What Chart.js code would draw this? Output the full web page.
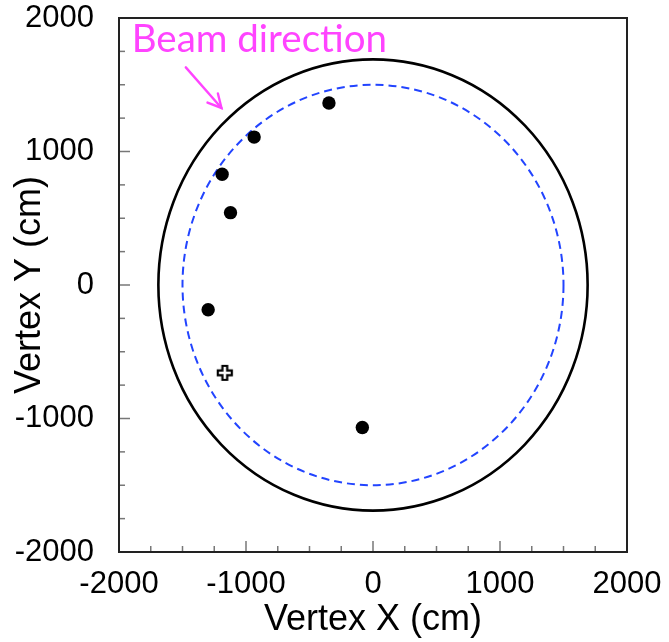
<!DOCTYPE html>
<html>
<head>
<meta charset="utf-8">
<script src="https://cdn.jsdelivr.net/npm/chart.js@4"></script>
<style>
  html, body { margin: 0; padding: 0; background: #fff; }
  #wrap { width: 669px; height: 642px; }
</style>
</head>
<body>
<div id="wrap"><canvas id="myChart" width="669" height="642"></canvas></div>
<script>
// vertices (cm)
const vertexX = [-347, -936, -1188, -1122, -1298, -84];
const vertexY = [1363, 1108, 830, 542, -185, -1067];
const openX = [-1167];
const openY = [-658];

const axisMin = -2000;
const axisMax = 2000;
const majorStep = 1000;
const minorStep = 250;

// detector outlines
const outerRadius = 1690;
const innerRadius = 1500;

// annotation
const beamLabel = "Beam direction";
const beamLabelAt = [-1900, 1745];
const arrowFrom = [-1474, 1630];
const arrowTo = [-1193, 1326];

// open cross marker drawn once on a small canvas
function openCrossMarker() {
    const c = document.createElement('canvas');
    c.width = 18; c.height = 18;
    const g = c.getContext('2d');
    const a = 2.4, b = 7, m = 9;
    g.beginPath();
    g.moveTo(m - a, m - b); g.lineTo(m + a, m - b); g.lineTo(m + a, m - a);
    g.lineTo(m + b, m - a); g.lineTo(m + b, m + a); g.lineTo(m + a, m + a);
    g.lineTo(m + a, m + b); g.lineTo(m - a, m + b); g.lineTo(m - a, m + a);
    g.lineTo(m - b, m + a); g.lineTo(m - b, m - a); g.lineTo(m - a, m - a);
    g.closePath();
    g.fillStyle = '#fff';
    g.fill();
    g.lineWidth = 2.2;
    g.strokeStyle = '#000';
    g.stroke();
    return c;
}

const detectorPlugin = {
    id: 'detector',
    beforeDatasetsDraw(chart) {
        const ctx = chart.ctx;
        const xs = chart.scales.x, ys = chart.scales.y;
        const cx = xs.getPixelForValue(0), cy = ys.getPixelForValue(0);
        ctx.save();
        // outer solid outline
        ctx.beginPath();
        ctx.ellipse(cx, cy,
            xs.getPixelForValue(outerRadius) - cx,
            cy - ys.getPixelForValue(outerRadius), 0, 0, Math.PI * 2);
        ctx.lineWidth = 2.6;
        ctx.strokeStyle = '#000';
        ctx.stroke();
        // inner dashed outline
        ctx.beginPath();
        ctx.ellipse(cx, cy,
            xs.getPixelForValue(innerRadius) - cx,
            cy - ys.getPixelForValue(innerRadius), 0, 0, Math.PI * 2);
        ctx.setLineDash([8, 5]);
        ctx.lineWidth = 2;
        ctx.strokeStyle = '#2244ff';
        ctx.stroke();
        ctx.restore();
    },
    afterDraw(chart) {
        const ctx = chart.ctx;
        const xs = chart.scales.x, ys = chart.scales.y;
        const area = chart.chartArea;
        ctx.save();
        // inward ticks, left and bottom
        ctx.strokeStyle = '#777';
        ctx.lineWidth = 1.5;
        for (let v = axisMin + minorStep; v < axisMax; v += minorStep) {
            const len = (v % majorStep === 0) ? 11 : 6;
            const px = xs.getPixelForValue(v);
            ctx.beginPath(); ctx.moveTo(px, area.bottom); ctx.lineTo(px, area.bottom - len); ctx.stroke();
            const py = ys.getPixelForValue(v);
            ctx.beginPath(); ctx.moveTo(area.left, py); ctx.lineTo(area.left + len, py); ctx.stroke();
        }
        // frame
        ctx.strokeStyle = '#222';
        ctx.lineWidth = 2;
        ctx.strokeRect(area.left, area.top, area.right - area.left, area.bottom - area.top);

        // beam label and arrow
        ctx.fillStyle = '#ff44ff';
        ctx.strokeStyle = '#ff44ff';
        ctx.font = '38.5px Lato';
        ctx.textBaseline = 'alphabetic';
        ctx.fillText(beamLabel, xs.getPixelForValue(beamLabelAt[0]), ys.getPixelForValue(beamLabelAt[1]));
        const x1 = xs.getPixelForValue(arrowFrom[0]), y1 = ys.getPixelForValue(arrowFrom[1]);
        const x2 = xs.getPixelForValue(arrowTo[0]), y2 = ys.getPixelForValue(arrowTo[1]);
        ctx.lineWidth = 2.4;
        ctx.lineCap = 'round';
        ctx.beginPath(); ctx.moveTo(x1, y1); ctx.lineTo(x2, y2); ctx.stroke();
        const ang = Math.atan2(y2 - y1, x2 - x1);
        ctx.beginPath();
        ctx.moveTo(x2 - 15 * Math.cos(ang - 0.48), y2 - 15 * Math.sin(ang - 0.48));
        ctx.lineTo(x2, y2);
        ctx.lineTo(x2 - 15 * Math.cos(ang + 0.48), y2 - 15 * Math.sin(ang + 0.48));
        ctx.stroke();
        ctx.restore();
    }
};

const tickFont = { family: '"Liberation Sans", Arial, sans-serif', size: 31 };
const titleFont = { family: '"Liberation Sans", Arial, sans-serif', size: 36 };
const plainTick = v => String(v);

new Chart(document.getElementById('myChart').getContext('2d'), {
    type: 'scatter',
    data: {
        datasets: [
            {
                label: 'vertices',
                data: vertexX.map((x, i) => ({ x: x, y: vertexY[i] })),
                pointRadius: 6.7,
                pointBackgroundColor: '#000',
                pointBorderWidth: 0
            },
            {
                label: 'open',
                data: openX.map((x, i) => ({ x: x, y: openY[i] })),
                pointStyle: openCrossMarker(),
                pointRadius: 9
            }
        ]
    },
    options: {
        responsive: false,
        animation: false,
        layout: { padding: { top: 18, right: 42, left: 0, bottom: 0 } },
        plugins: { legend: { display: false }, tooltip: { enabled: false } },
        scales: {
            x: {
                type: 'linear', min: axisMin, max: axisMax,
                afterFit: s => { s.height = 90; s.paddingLeft = 0; s.paddingRight = 0; },
                grid: { display: false },
                border: { display: false },
                ticks: { stepSize: majorStep, color: '#000', font: tickFont, padding: 6, maxRotation: 0, callback: plainTick },
                title: { display: true, text: 'Vertex X (cm)', color: '#000', font: titleFont, padding: { top: 2, bottom: 0 } }
            },
            y: {
                type: 'linear', min: axisMin, max: axisMax,
                afterFit: s => { s.width = 119; s.paddingTop = 0; s.paddingBottom = 0; },
                grid: { display: false },
                border: { display: false },
                ticks: { stepSize: majorStep, color: '#000', font: tickFont, padding: 17, callback: plainTick },
                title: { display: true, text: 'Vertex Y (cm)', color: '#000', font: titleFont, padding: { top: 8, bottom: 0 } }
            }
        }
    },
    plugins: [detectorPlugin]
});
</script>
</body>
</html>
